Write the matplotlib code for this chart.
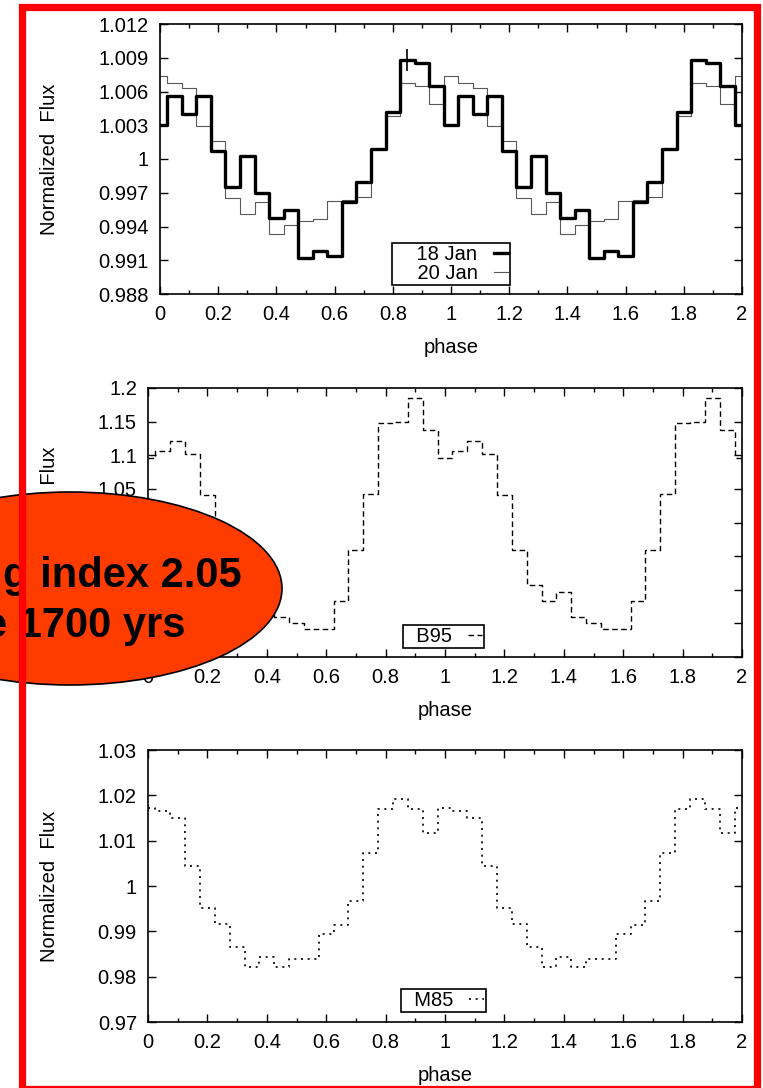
import matplotlib
matplotlib.use('Agg')
import matplotlib.pyplot as plt
import matplotlib.patches as patches
from matplotlib.ticker import MultipleLocator, FixedLocator, FuncFormatter
from matplotlib.lines import Line2D
import numpy as np

plt.rcParams['font.family'] = ['Liberation Sans', 'DejaVu Sans']

# phase bins (centres), two cycles
phase = np.round(np.arange(41) * 0.05, 2)

# top panel: 18 Jan (thick) and 20 Jan (thin)
jan18 = [1.0030, 1.0056, 1.0040, 1.0056, 1.0007, 0.9975, 1.0003, 0.9970, 0.9948, 0.9955,
         0.9912, 0.9918, 0.9914, 0.9962, 0.9980, 1.0009, 1.0042, 1.0088, 1.0085, 1.0065,
         1.0030, 1.0056, 1.0040, 1.0056, 1.0007, 0.9975, 1.0003, 0.9970, 0.9948, 0.9955,
         0.9912, 0.9918, 0.9914, 0.9962, 0.9980, 1.0009, 1.0042, 1.0088, 1.0085, 1.0065,
         1.0030]
jan20 = [1.0074, 1.0068, 1.0063, 1.0029, 1.0016, 0.9965, 0.9951, 0.9962, 0.9933, 0.9941,
         0.9945, 0.9947, 0.9963, 0.9964, 0.9966, 1.0009, 1.0038, 1.0068, 1.0065, 1.0049,
         1.0074, 1.0068, 1.0063, 1.0029, 1.0016, 0.9965, 0.9951, 0.9962, 0.9933, 0.9941,
         0.9945, 0.9947, 0.9963, 0.9964, 0.9966, 1.0009, 1.0038, 1.0068, 1.0065, 1.0049,
         1.0074]
err_x, err_y, err_dy = 0.85, 1.0088, 0.00095

# middle panel: B95
b95 = [1.096, 1.107, 1.121, 1.102, 1.041, 0.959, 0.907, 0.883, 0.897, 0.860,
       0.850, 0.842, 0.842, 0.883, 0.959, 1.043, 1.148, 1.149, 1.185, 1.137,
       1.096, 1.107, 1.121, 1.102, 1.041, 0.959, 0.907, 0.883, 0.897, 0.860,
       0.850, 0.842, 0.842, 0.883, 0.959, 1.043, 1.148, 1.149, 1.185, 1.137,
       1.096]

# bottom panel: M85
m85 = [1.0172, 1.0165, 1.0150, 1.0044, 0.9952, 0.9917, 0.9865, 0.9821, 0.9844, 0.9821,
       0.9838, 0.9838, 0.9895, 0.9913, 0.9966, 1.0072, 1.0170, 1.0193, 1.0170, 1.0117,
       1.0172, 1.0165, 1.0150, 1.0044, 0.9952, 0.9917, 0.9865, 0.9821, 0.9844, 0.9821,
       0.9838, 0.9838, 0.9895, 0.9913, 0.9966, 1.0072, 1.0170, 1.0193, 1.0170, 1.0117,
       1.0172]

W, H = 763, 1088
FS = 14.5
fig = plt.figure(figsize=(W / 100, H / 100), dpi=100)


def box(l, t, r, b):
    return [l / W, 1 - b / H, (r - l) / W, (b - t) / H]


def style(ax, ylo, yhi, ystep, labx):
    ax.set_xlim(0, 2)
    ax.set_ylim(ylo, yhi)
    ax.xaxis.set_major_locator(MultipleLocator(0.2))
    ax.xaxis.set_minor_locator(MultipleLocator(0.1))
    n = int(round((yhi - ylo) / ystep))
    ax.yaxis.set_major_locator(FixedLocator([ylo + i * ystep for i in range(n + 1)]))
    fmt = FuncFormatter(lambda v, p: '%g' % round(v, 6))
    ax.xaxis.set_major_formatter(fmt)
    ax.yaxis.set_major_formatter(fmt)
    ax.tick_params(which='both', direction='in', top=True, right=True,
                   labelsize=FS, colors='black')
    ax.tick_params(axis='x', pad=8)
    ax.tick_params(axis='y', pad=8)
    ax.tick_params(which='major', length=6, width=1)
    ax.tick_params(which='minor', length=3, width=1)
    for s in ax.spines.values():
        s.set_linewidth(1.2)
    ax.set_xlabel('phase', fontsize=FS, labelpad=10)
    ax.set_ylabel('Normalized  Flux', fontsize=FS)
    ax.yaxis.set_label_coords(labx, 0.5)


def legend(ax, handles, labels, cx, by):
    leg = ax.legend(handles, labels, loc='lower center', bbox_to_anchor=(cx, by),
                    borderaxespad=0, markerfirst=False, handlelength=0.7,
                    handletextpad=0.8, fancybox=False, edgecolor='black',
                    framealpha=1, fontsize=FS, borderpad=0.1, labelspacing=0.0)
    leg.get_frame().set_linewidth(1.2)
    return leg


# top
ax1 = fig.add_axes(box(160, 24, 742, 294))
ax1.step(phase, jan20, where='mid', color='0.35', lw=0.8)
ax1.step(phase, jan18, where='mid', color='black', lw=2.4)
ax1.errorbar(err_x, err_y, yerr=err_dy, fmt='none', ecolor='black', elinewidth=1.2, capsize=0)
style(ax1, 0.988, 1.012, 0.003, -0.174)
legend(ax1, [Line2D([], [], color='black', lw=2.4), Line2D([], [], color='0.35', lw=0.8)],
       ['    18 Jan', '    20 Jan'], 0.5, 0.033)

# middle
ax2 = fig.add_axes(box(148, 388, 742, 657))
ax2.step(phase, b95, where='mid', color='black', lw=1.0, linestyle=(0, (4, 2.5)))
style(ax2, 0.8, 1.2, 0.05, -0.150)
legend(ax2, [Line2D([], [], color='black', lw=1.0, linestyle=(0, (4, 2.5)))],
       ['  B95'], 0.498, 0.033)

# bottom
ax3 = fig.add_axes(box(148, 750, 742, 1022))
ax3.step(phase, m85, where='mid', color='black', lw=1.2, linestyle=(0, (1.2, 2.8)))
style(ax3, 0.97, 1.03, 0.01, -0.150)
legend(ax3, [Line2D([], [], color='black', lw=1.2, linestyle=(0, (1.2, 2.8)))],
       ['  M85'], 0.497, 0.037)

# red frame
frame = patches.Rectangle((22 / W, 1 - 1088.5 / H), (756.5 - 22) / W, (1088.5 - 7) / H,
                          transform=fig.transFigure, fill=False, edgecolor='#ff0000',
                          linewidth=5.2, zorder=20)
fig.add_artist(frame)

# overlay ellipse with text
ell = patches.Ellipse((70 / W, 1 - 588.5 / H), 424 / W, 193 / H, transform=fig.transFigure,
                      facecolor='#ff3c00', edgecolor='black', linewidth=1.2, zorder=10)
fig.add_artist(ell)
fig.text(242 / W, 1 - 587 / H, 'g index 2.05', ha='right', va='baseline',
         fontsize=30, fontweight='bold', color='black', zorder=11)
fig.text(185 / W, 1 - 637 / H, 'e 1700 yrs', ha='right', va='baseline',
         fontsize=30, fontweight='bold', color='black', zorder=11)

fig.savefig('out.png', dpi=100)
